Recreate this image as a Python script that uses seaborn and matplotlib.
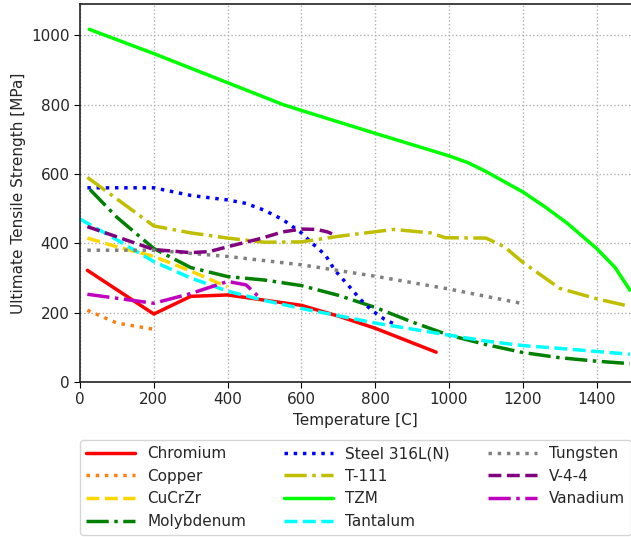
import matplotlib
matplotlib.use("Agg")
import matplotlib.pyplot as plt
import seaborn as sns
import pandas as pd

# ---- data ----
chromium_T = [20, 200, 300, 400, 500, 600, 700, 800, 965]
chromium_S = [322, 196, 247, 251, 236, 221, 190, 155, 86]

copper_T = [20, 100, 200]
copper_S = [207, 170, 152]

cucrzr_T = [20, 100, 200, 300, 400]
cucrzr_S = [415, 390, 362, 320, 274]

molybdenum_T = [27, 100, 200, 300, 400, 500, 600, 700, 800, 900, 1000, 1100, 1200, 1300, 1400, 1490]
molybdenum_S = [555, 475, 385, 330, 304, 294, 278, 250, 215, 173, 135, 108, 85, 70, 60, 53]

steel_T = [20, 200, 300, 400, 450, 500, 550, 600, 625, 665, 690, 730, 760, 790, 825, 850]
steel_S = [560, 560, 538, 525, 515, 495, 468, 430, 404, 366, 323, 275, 238, 207, 181, 168]

t111_T = [20, 200, 300, 400, 500, 600, 700, 850, 950, 990, 1100, 1150, 1200, 1300, 1400, 1490]
t111_S = [590, 450, 430, 415, 403, 404, 420, 440, 430, 416, 415, 390, 345, 270, 240, 218]

tzm_T = [25, 200, 400, 550, 600, 800, 1000, 1050, 1100, 1200, 1260, 1320, 1400, 1450, 1490]
tzm_S = [1017, 947, 863, 800, 783, 717, 652, 633, 607, 548, 505, 458, 385, 330, 265]

tantalum_T = [0, 100, 200, 300, 400, 500, 600, 800, 1000, 1100, 1200, 1300, 1400, 1490]
tantalum_S = [470, 410, 347, 300, 262, 235, 212, 170, 135, 118, 105, 97, 88, 80]

tungsten_T = [20, 200, 400, 600, 800, 1000, 1200]
tungsten_S = [380, 380, 362, 338, 305, 268, 226]

v44_T = [20, 200, 300, 350, 400, 490, 550, 600, 640, 670, 690]
v44_S = [448, 382, 373, 376, 390, 414, 433, 441, 440, 433, 424]

vanadium_T = [20, 200, 300, 400, 450, 490]
vanadium_S = [253, 227, 255, 290, 280, 240]

materials = ["Chromium", "Copper", "CuCrZr", "Molybdenum", "Steel 316L(N)", "T-111",
             "TZM", "Tantalum", "Tungsten", "V-4-4", "Vanadium"]
temps = [chromium_T, copper_T, cucrzr_T, molybdenum_T, steel_T, t111_T,
         tzm_T, tantalum_T, tungsten_T, v44_T, vanadium_T]
strengths = [chromium_S, copper_S, cucrzr_S, molybdenum_S, steel_S, t111_S,
             tzm_S, tantalum_S, tungsten_S, v44_S, vanadium_S]

colors = ["#ff0000", "#ff7f0e", "#ffd700", "#008000", "#0000ff", "#bfbf00",
          "#00ff00", "#00ffff", "#808080", "#800080", "#bf00bf"]
styles = ["-", ":", "--", "-.", ":", "-.", "-", "--", ":", "--", "-."]

sns.set_style("ticks")
plt.rcParams["font.family"] = ["DejaVu Sans"]

fig = plt.figure(figsize=(6.31, 5.37), dpi=100)
ax = fig.add_axes([80 / 631, (537 - 382) / 537, 551 / 631, 378 / 537])

for name, T, S, c, ls in zip(materials, temps, strengths, colors, styles):
    df = pd.DataFrame({"T": T, "S": S})
    sns.lineplot(data=df, x="T", y="S", ax=ax, color=c, linestyle=ls,
                 linewidth=2.5, label=name, sort=False)

ax.set_xlim(0, 1493)
ax.set_ylim(0, 1090)
ax.set_xticks([0, 200, 400, 600, 800, 1000, 1200, 1400])
ax.set_yticks([0, 200, 400, 600, 800, 1000])
ax.grid(True, linestyle=":", color="#b0b0b0", linewidth=1)
ax.set_axisbelow(True)
ax.set_xlabel("Temperature [C]", fontsize=11)
ax.set_ylabel("Ultimate Tensile Strength [MPa]", fontsize=11)
ax.tick_params(labelsize=11, direction="out", length=4, color="black")
for side in ["left", "bottom", "top"]:
    ax.spines[side].set_color("#222222")
    ax.spines[side].set_linewidth(1.2)
ax.spines["right"].set_visible(False)

ax.legend(loc="upper left", bbox_to_anchor=(0, -0.1534, 1, 0), mode="expand",
          ncol=3, borderaxespad=0, fontsize=11, handlelength=3.2,
          frameon=True, edgecolor="#cccccc")

fig.savefig("out.png", dpi=100)
